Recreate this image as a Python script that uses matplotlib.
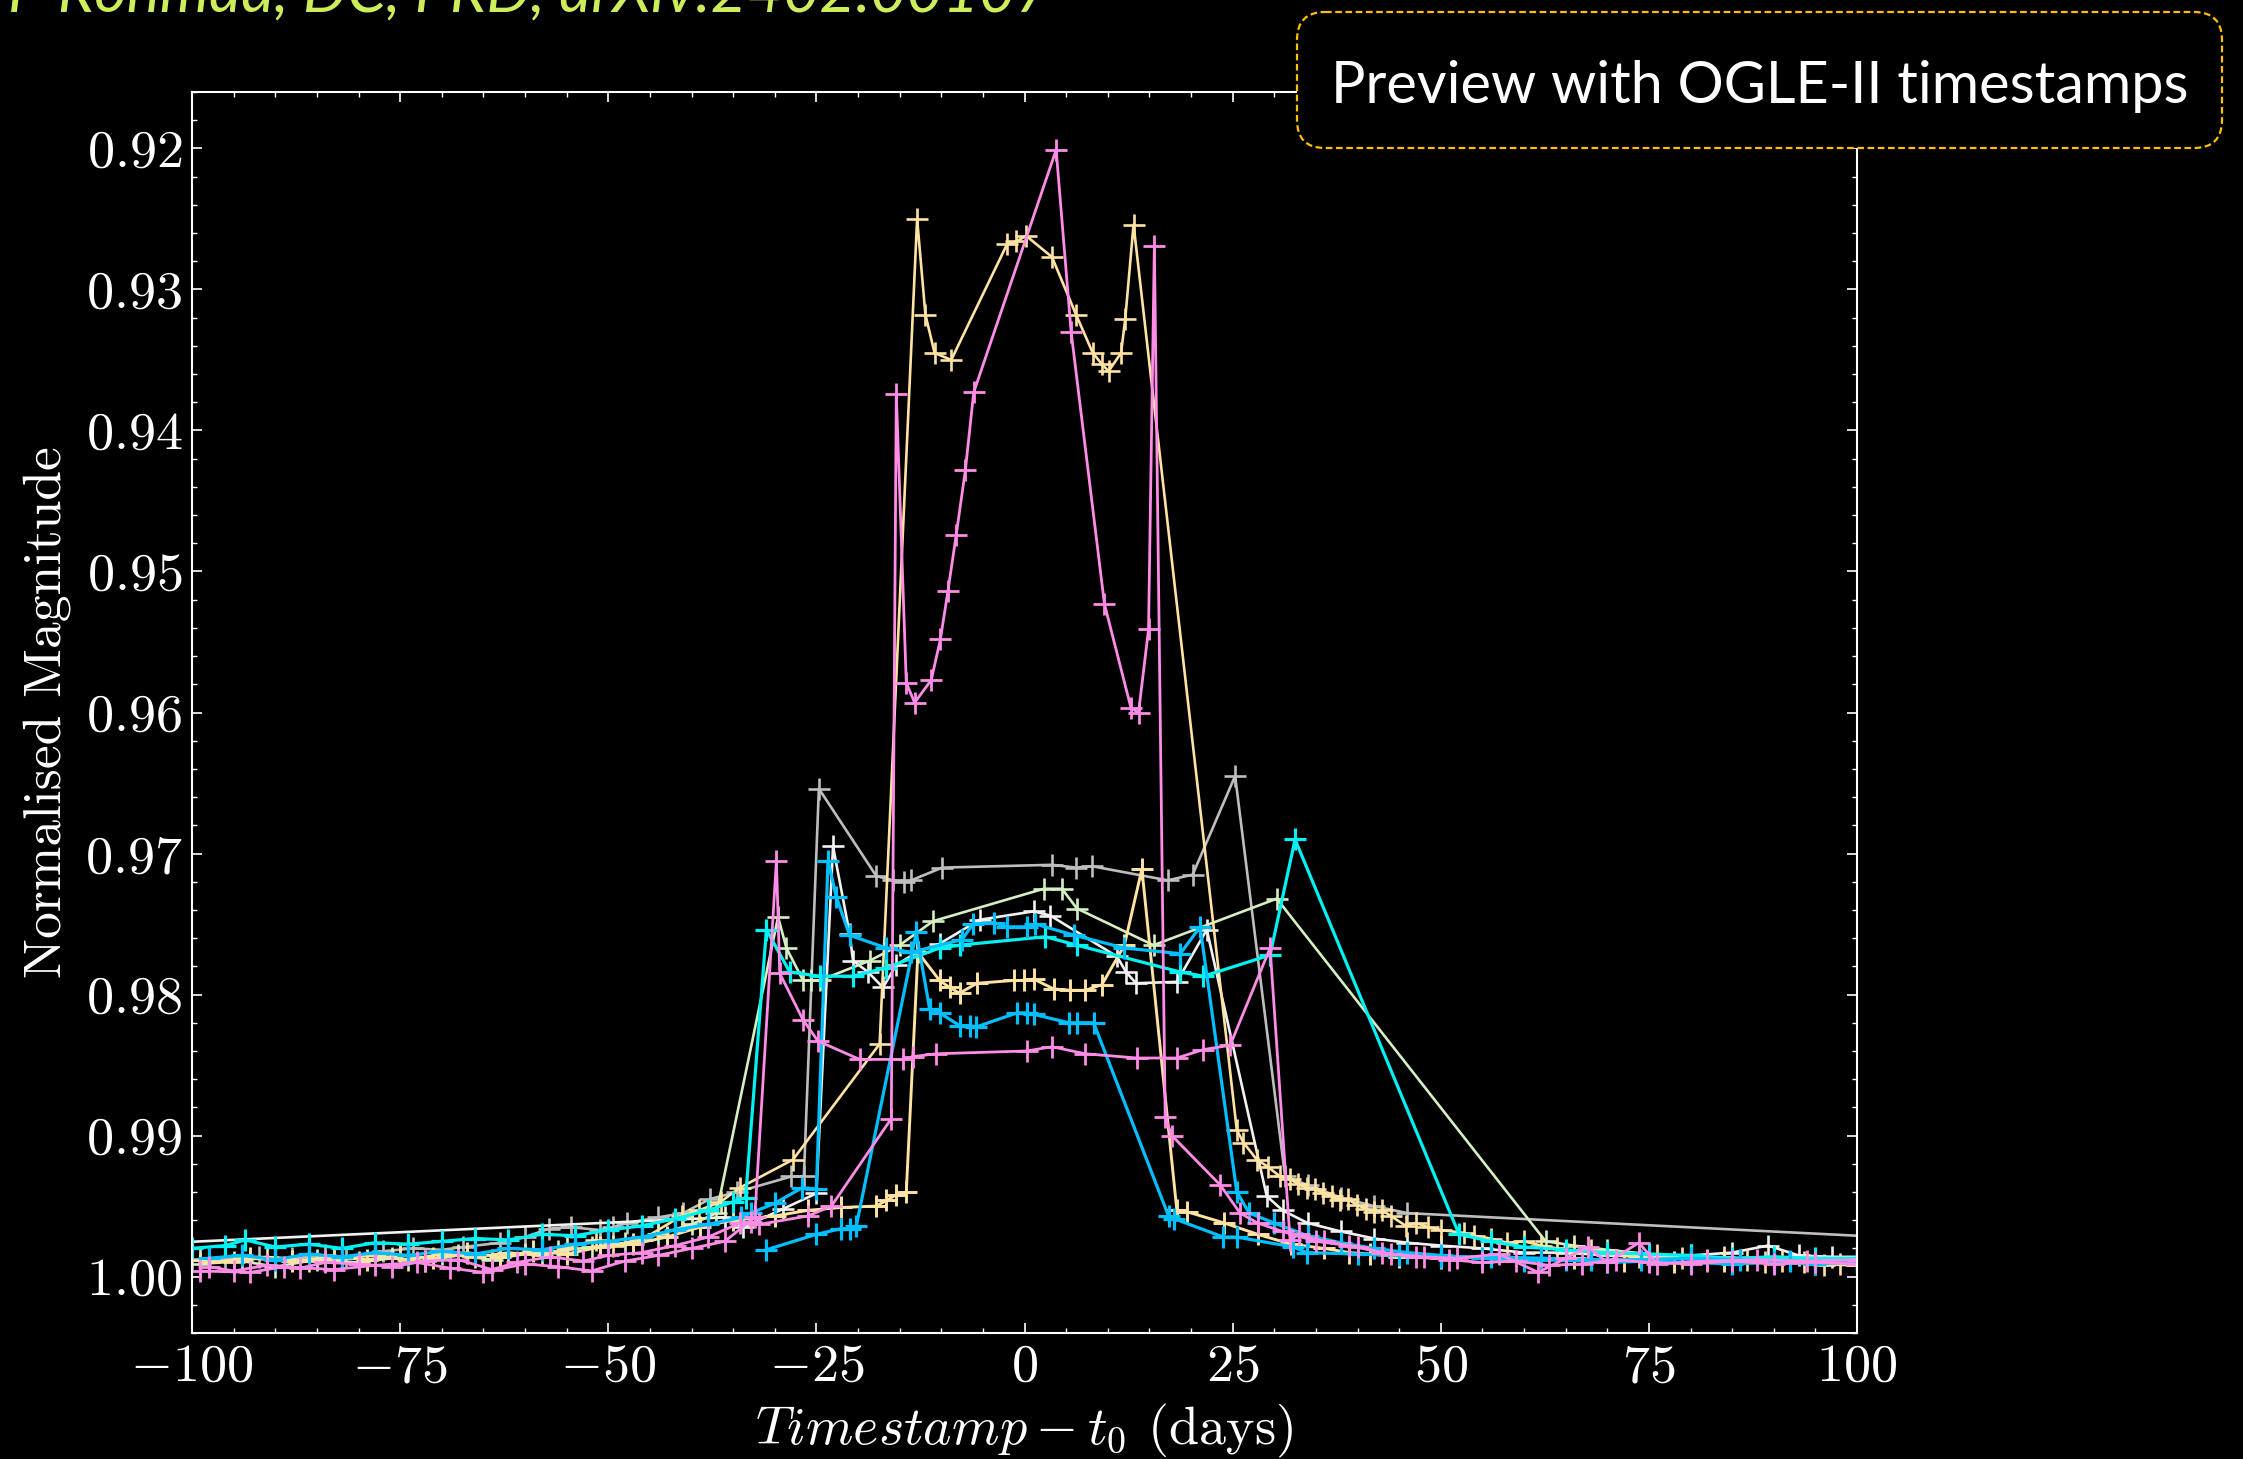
import matplotlib
matplotlib.use("Agg")
import matplotlib.pyplot as plt
from matplotlib.patches import FancyBboxPatch
from matplotlib.ticker import MultipleLocator

plt.rcParams['font.family'] = 'serif'
plt.rcParams['font.serif'] = ['cmr10']
plt.rcParams['mathtext.fontset'] = 'cm'
plt.rcParams['axes.formatter.use_mathtext'] = True

# ---- light curves (time from t0 in days, normalised magnitude) ----
t_gray = [-100, -96, -92, -88, -84, -81.5, -77, -73.4, -70, -67.4, -63, -60, -57.1, -54.5, -51,
          -49.4, -47.7, -44, -41, -37.8, -34.5, -28.0, -26.5, -24.7, -17.8, -15.8, -14.5, -13.6,
          -9.9, 3.3, 6.2, 8.1, 17.2, 20.2, 25.3, 31.3, 34, 38, 42, 46, 110]
m_gray = [0.9988, 0.9987, 0.9986, 0.9987, 0.9985, 0.9986, 0.9982, 0.9980, 0.9981, 0.9979, 0.9976,
          0.9972, 0.9966, 0.9965, 0.9967, 0.9965, 0.9962, 0.9958, 0.9955, 0.9945, 0.9940, 0.9929,
          0.9929, 0.9654, 0.9716, 0.9719, 0.9720, 0.9719, 0.9710, 0.9708, 0.9710, 0.9709, 0.9719,
          0.9715, 0.9645, 0.9929, 0.9935, 0.9944, 0.9950, 0.9955, 0.9974]

t_white = [-110, -36, -33.8, -29, -25, -23.0, -21.0, -20.6, -18.8, -17.0, -15.4, -12.9, -10.2,
           -5.4, 1.1, 3.1, 11.1, 12.2, 13.4, 18.3, 21.9, 29.1, 31, 34, 38, 42, 46, 50, 55, 60,
           65, 70, 75, 80, 85, 89.3, 93, 97, 100]
m_white = [0.9978, 0.9958, 0.9965, 0.9952, 0.9941, 0.9695, 0.9757, 0.9776, 0.9784, 0.9795, 0.9779,
           0.9770, 0.9764, 0.9747, 0.9741, 0.9744, 0.9773, 0.9784, 0.9792, 0.9791, 0.9754, 0.9943,
           0.9953, 0.9962, 0.9968, 0.9973, 0.9976, 0.9978, 0.9980, 0.9983, 0.9983, 0.9985, 0.9986,
           0.9985, 0.9983, 0.9978, 0.9985, 0.9986, 0.9986]

t_green = [-99, -94, -90, -85, -80, -76, -72, -68, -64, -60, -56, -52, -48, -44, -40, -37,
           -29.6, -28.6, -26.6, -25.6, -24.6, -18.6, -15.0, -11.0, 2.3, 4.5, 6.3, 15.5, 30.3,
           62.6, 66, 70, 75, 80, 85, 90, 95, 100]
m_green = [0.9991, 0.9989, 0.9993, 0.9988, 0.9990, 0.9987, 0.9989, 0.9985, 0.9988, 0.9984, 0.9982,
           0.9979, 0.9976, 0.9970, 0.9963, 0.9955, 0.9745, 0.9767, 0.9790, 0.9790, 0.9790, 0.9776,
           0.9765, 0.9748, 0.9725, 0.9725, 0.9739, 0.9765, 0.9732, 0.9975, 0.9978, 0.9981, 0.9984,
           0.9986, 0.9987, 0.9986, 0.9988, 0.9988]

t_wheat_flat = [-98, -93, -88, -83, -79, -75, -71, -67, -63, -59, -55, -51, -47, -43, -39, -35,
                -30, -26, -22, -17.8, -16.6, -15.4, -14.2, -12.8, -10.2, -9.0, -7.8, -5.7, -1.3,
                -0.1, 1.1, 3.5, 5.5, 7.3, 9.3, 12.0, 14.1, 18.3, 19.5, 24, 28, 32, 36, 39, 41.5,
                45, 50, 55, 60, 66, 72, 78, 84, 90, 95, 100]
m_wheat_flat = [0.9990, 0.9987, 0.9989, 0.9986, 0.9988, 0.9985, 0.9987, 0.9983, 0.9986, 0.9982,
                0.9984, 0.9979, 0.9977, 0.9972, 0.9965, 0.9960, 0.9957, 0.9953, 0.9951, 0.9950,
                0.9946, 0.9942, 0.9940, 0.9770, 0.9790, 0.9795, 0.9799, 0.9792, 0.9790, 0.9790,
                0.9789, 0.9796, 0.9797, 0.9797, 0.9793, 0.9765, 0.9711, 0.9953, 0.9954, 0.9962,
                0.9970, 0.9977, 0.9980, 0.9983, 0.9984, 0.9986, 0.9987, 0.9986, 0.9988, 0.9987,
                0.9989, 0.9990, 0.9989, 0.9990, 0.9991, 0.9992]

t_wheat_peak = [-99, -95, -91, -86, -82, -78, -74, -70, -66, -62, -58, -55, -51.5, -49.4, -46,
                -41.2, -39.1, -36.5, -34.2, -27.8, -17.4, -12.9, -11.9, -10.8, -8.8, -2.1, -1.0,
                0.2, 3.3, 6.2, 8.2, 9.3, 10.1, 11.6, 12.1, 13.1, 25.5, 26.3, 27.9, 29.2, 30.7,
                31.9, 32.8, 33.9, 34.9, 35.9, 36.9, 37.9, 38.8, 39.9, 41, 42, 43, 44, 45.8, 47,
                48.5, 50, 52.8, 54, 56, 58, 60, 62.1, 64, 66, 68, 70, 73.8, 76, 79, 82, 84,
                86.8, 89, 91, 93.6, 96, 98, 100]
m_wheat_peak = [0.9988, 0.9990, 0.9986, 0.9989, 0.9987, 0.9985, 0.9988, 0.9984, 0.9986, 0.9983,
                0.9985, 0.9980, 0.9974, 0.9978, 0.9974, 0.9957, 0.9953, 0.9947, 0.9937, 0.9917,
                0.9835, 0.9250, 0.9318, 0.9345, 0.9350, 0.9268, 0.9266, 0.9262, 0.9277, 0.9318,
                0.9345, 0.9353, 0.9358, 0.9345, 0.9321, 0.9254, 0.9896, 0.9905, 0.9917, 0.9922,
                0.9929, 0.9931, 0.9934, 0.9937, 0.9938, 0.9941, 0.9943, 0.9946, 0.9945, 0.9949,
                0.9952, 0.9954, 0.9953, 0.9957, 0.9964, 0.9962, 0.9965, 0.9967, 0.9969, 0.9971,
                0.9973, 0.9976, 0.9975, 0.9978, 0.9980, 0.9982, 0.9981, 0.9984, 0.9986, 0.9985,
                0.9987, 0.9988, 0.9986, 0.9988, 0.9990, 0.9989, 0.9990, 0.9992, 0.9991, 0.9990]

t_cyan = [-100, -96, -93.6, -90, -86, -82, -78, -74, -70, -66, -62, -58, -54, -50, -46, -42, -38,
          -35, -33.5, -31.0, -28.2, -24.6, -20.6, -16.6, -10.2, -7.8, 2.5, 6.3, 18.7, 21.5, 29.5,
          32.5, 52.2, 56, 60, 65, 70, 75, 80, 85, 90, 95, 100]
m_cyan = [0.9980, 0.9978, 0.9974, 0.9979, 0.9977, 0.9980, 0.9976, 0.9977, 0.9975, 0.9973, 0.9974,
          0.9970, 0.9971, 0.9967, 0.9964, 0.9959, 0.9953, 0.9947, 0.9944, 0.9754, 0.9784, 0.9787,
          0.9787, 0.9781, 0.9767, 0.9765, 0.9759, 0.9765, 0.9784, 0.9787, 0.9772, 0.9690, 0.9970,
          0.9975, 0.9979, 0.9981, 0.9983, 0.9984, 0.9985, 0.9987, 0.9986, 0.9987, 0.9987]

t_blue_hi = [-98, -94, -90, -86, -82, -78, -74, -70, -66, -62, -58, -54, -50, -46, -42, -38, -34,
             -32.9, -30, -26.7, -25, -23.6, -22.6, -21.0, -16.6, -13.6, -7.5, -6.2, -3.7, -2.1,
             0.3, 1.3, 6.0, 12.0, 18.7, 21.1, 25.5, 27, 30, 34, 38, 42, 46, 50, 55, 60, 65, 70,
             75, 80, 85, 90, 95, 100]
m_blue_hi = [0.9987, 0.9985, 0.9988, 0.9984, 0.9986, 0.9983, 0.9985, 0.9982, 0.9984, 0.9980,
             0.9981, 0.9977, 0.9975, 0.9972, 0.9967, 0.9963, 0.9958, 0.9955, 0.9948, 0.9937,
             0.9938, 0.9705, 0.9731, 0.9758, 0.9767, 0.9770, 0.9761, 0.9750, 0.9749, 0.9752,
             0.9752, 0.9750, 0.9758, 0.9767, 0.9771, 0.9752, 0.9940, 0.9955, 0.9962, 0.9971,
             0.9976, 0.9980, 0.9983, 0.9985, 0.9987, 0.9989, 0.9988, 0.9990, 0.9989, 0.9990,
             0.9991, 0.9990, 0.9991, 0.9990]

t_blue_lo = [-31.0, -25.0, -22.0, -21.0, -20.2, -13.0, -11.4, -10.2, -7.8, -6.6, -5.8, -0.9, 0.3,
             1.1, 5.3, 6.3, 8.3, 17.3, 18.0, 23.9, 25.5, 32.3, 33.9, 40, 45, 50, 56, 62, 68, 74,
             80, 86, 92, 100]
m_blue_lo = [0.9981, 0.9970, 0.9966, 0.9966, 0.9964, 0.9756, 0.9810, 0.9813, 0.9822, 0.9822,
             0.9823, 0.9813, 0.9813, 0.9814, 0.9820, 0.9820, 0.9820, 0.9957, 0.9959, 0.9972,
             0.9972, 0.9979, 0.9983, 0.9984, 0.9985, 0.9986, 0.9986, 0.9987, 0.9988, 0.9988,
             0.9987, 0.9988, 0.9989, 0.9989]

t_pink_flat = [-99, -93, -89, -83, -78, -73, -69, -65, -60, -56, -52, -48, -44, -40, -36, -32.4,
               -29.8, -29.4, -26.6, -24.8, -19.8, -14.6, -13.4, -10.6, 0.3, 3.3, 7.3, 13.5, 18.3,
               21.5, 24.7, 29.5, 31.9, 33, 36, 40, 44, 48, 52, 57, 61.7, 65, 67.7, 70, 73.8, 76,
               82, 88, 94, 100]
m_pink_flat = [0.9996, 0.9997, 0.9993, 0.9995, 0.9992, 0.9990, 0.9994, 0.9997, 0.9991, 0.9993,
               0.9996, 0.9989, 0.9985, 0.9980, 0.9975, 0.9958, 0.9705, 0.9785, 0.9818, 0.9833,
               0.9846, 0.9846, 0.9844, 0.9842, 0.9840, 0.9837, 0.9842, 0.9845, 0.9845, 0.9839,
               0.9836, 0.9767, 0.9974, 0.9970, 0.9975, 0.9979, 0.9984, 0.9986, 0.9987, 0.9984,
               0.9997, 0.9987, 0.9979, 0.9990, 0.9976, 0.9991, 0.9989, 0.9988, 0.9989, 0.9988]

t_pink_peak = [-98, -95, -91, -87, -84, -80, -76, -72, -68, -64, -61, -57, -53, -50, -46, -42, -38,
               -34.2, -32.9, -31.9, -26, -23.2, -16.0, -15.4, -14.2, -13.2, -11.2, -10.1, -9.2,
               -8.2, -7.1, -6.1, 3.8, 5.6, 9.6, 12.8, 13.7, 14.9, 15.6, 16.9, 17.7, 23.5, 25.9,
               28, 31, 35, 39, 43, 47, 51, 55, 59, 63, 67, 71, 75, 80, 85, 90, 95, 100]
m_pink_peak = [0.9993, 0.9996, 0.9992, 0.9994, 0.9990, 0.9991, 0.9993, 0.9989, 0.9988, 0.9995,
               0.9990, 0.9986, 0.9989, 0.9985, 0.9983, 0.9978, 0.9972, 0.9962, 0.9961, 0.9963,
               0.9957, 0.9950, 0.9888, 0.9374, 0.9579, 0.9593, 0.9577, 0.9548, 0.9514, 0.9474,
               0.9428, 0.9373, 0.9201, 0.9330, 0.9523, 0.9597, 0.9600, 0.9541, 0.9269, 0.9887,
               0.9900, 0.9935, 0.9955, 0.9962, 0.9968, 0.9975, 0.9978, 0.9983, 0.9986, 0.9988,
               0.9990, 0.9989, 0.9992, 0.9991, 0.9988, 0.9990, 0.9991, 0.9989, 0.9991, 0.9990,
               0.9991]

series = [
    (t_gray, m_gray, '#bebebe', 1.9),
    (t_white, m_white, '#f2f2f2', 1.9),
    (t_green, m_green, '#d6efc2', 1.9),
    (t_wheat_flat, m_wheat_flat, '#ffe3a3', 2.1),
    (t_wheat_peak, m_wheat_peak, '#ffe3a3', 1.9),
    (t_cyan, m_cyan, '#00f2f2', 2.3),
    (t_blue_hi, m_blue_hi, '#00bfff', 2.3),
    (t_blue_lo, m_blue_lo, '#00bfff', 2.3),
    (t_pink_flat, m_pink_flat, '#ff8ce6', 2.0),
    (t_pink_peak, m_pink_peak, '#ff8ce6', 2.0),
]

W, H = 2243, 1459
fig = plt.figure(figsize=(W / 100, H / 100), dpi=100, facecolor='black')
ax = fig.add_axes([192 / W, (H - 1333) / H, (1857 - 192) / W, (1333 - 92) / H])
ax.set_facecolor('black')

for t, m, c, lw in series:
    ax.plot(t, m, color=c, lw=lw, marker='+', ms=16, mew=lw)

ax.set_xlim(-100, 100)
ax.set_ylim(1.0040, 0.9160)
ax.xaxis.set_major_locator(MultipleLocator(25))
ax.xaxis.set_minor_locator(MultipleLocator(5))
ax.yaxis.set_major_locator(MultipleLocator(0.01))
ax.yaxis.set_minor_locator(MultipleLocator(0.002))
ax.tick_params(which='both', direction='in', top=True, right=True, colors='white',
               labelsize=39)
ax.tick_params(which='major', length=7, width=1.2)
ax.tick_params(which='minor', length=3.6, width=1.0)
ax.tick_params(axis='x', pad=8)
ax.tick_params(axis='y', pad=7)
for s in ax.spines.values():
    s.set_color('white')
    s.set_linewidth(1.5)

ax.set_ylabel('Normalised Magnitude', color='white', fontsize=38.5, labelpad=10)
ax.set_xlabel(r'$Timestamp - t_0$ (days)', color='white', fontsize=39, labelpad=8)

# slide overlay in pixel coordinates
ov = fig.add_axes([0, 0, 1, 1], zorder=5)
ov.set_xlim(0, W)
ov.set_ylim(H, 0)
ov.axis('off')
ov.patch.set_alpha(0)

box = FancyBboxPatch((1297, 12), 925, 136, boxstyle='round,pad=0,rounding_size=28',
                     facecolor='black', edgecolor='#ffc000', lw=1.6, ls=(0, (3, 1.6)))
ov.add_patch(box)
ov.text(1760, 103, 'Preview with OGLE-II timestamps', ha='center', va='baseline',
        color='white', fontsize=41.5, family='Lato')
ov.text(1052, 12, 'P Rohmad, DC, PRD, arXiv:2402.00107', ha='right', va='baseline',
        color='#cdee5a', fontsize=45, family='Lato', style='italic')

fig.savefig('out.png', dpi=100, facecolor='black')
